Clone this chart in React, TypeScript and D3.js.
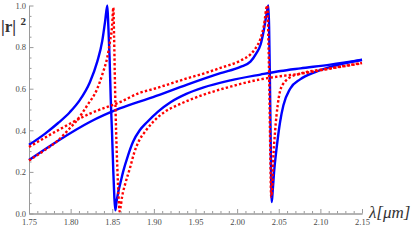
import React, { useEffect, useRef } from 'react';
import * as d3 from 'd3';

// wavelength (um) vs |r|^2
const blueA = [
  [1.75, 0.33], [1.769, 0.383], [1.785, 0.435], [1.799, 0.487], [1.811, 0.545],
  [1.823, 0.63], [1.832, 0.73], [1.838, 0.83], [1.8413, 0.92], [1.8441, 1.0],
  [1.8453, 0.9], [1.8468, 0.75], [1.8482, 0.55], [1.8498, 0.38], [1.8513, 0.2],
  [1.8525, 0.08], [1.8537, 0.015], [1.8549, 0.05], [1.857, 0.1], [1.86, 0.15],
  [1.863, 0.2], [1.869, 0.28], [1.875, 0.345], [1.883, 0.4], [1.892, 0.44],
  [1.905, 0.49], [1.92, 0.535], [1.939, 0.575], [1.959, 0.605], [1.992, 0.64],
  [2.028, 0.668], [2.052, 0.685], [2.076, 0.698], [2.112, 0.716], [2.15, 0.74],
];
const redA = [
  [1.75, 0.255], [1.769, 0.305], [1.785, 0.352], [1.799, 0.41], [1.808, 0.45],
  [1.82, 0.52], [1.832, 0.6], [1.839, 0.68], [1.844, 0.75], [1.8474, 0.83],
  [1.8498, 0.9], [1.8513, 0.99], [1.8522, 0.85], [1.8534, 0.6], [1.8546, 0.4],
  [1.8561, 0.22], [1.8576, 0.08], [1.8588, 0.01], [1.86, 0.03], [1.8618, 0.08],
  [1.8654, 0.14], [1.8714, 0.22], [1.8762, 0.29], [1.881, 0.34], [1.8906, 0.4],
  [1.899, 0.44], [1.9135, 0.49], [1.928, 0.52], [1.959, 0.57], [1.992, 0.61],
  [2.028, 0.645], [2.052, 0.66], [2.076, 0.672], [2.112, 0.697], [2.15, 0.722],
];
const blueB = [
  [1.75, 0.257], [1.785, 0.35], [1.823, 0.44], [1.859, 0.505], [1.899, 0.56],
  [1.94, 0.62], [1.98, 0.675], [2.004, 0.705], [2.016, 0.73], [2.023, 0.77],
  [2.028, 0.81], [2.032, 0.88], [2.035, 0.95], [2.0375, 1.0], [2.0384, 0.9],
  [2.0392, 0.7], [2.04, 0.45], [2.0408, 0.2], [2.0416, 0.055], [2.0426, 0.1],
  [2.0444, 0.2], [2.0476, 0.32], [2.0516, 0.44], [2.0556, 0.52], [2.0637, 0.6],
  [2.0757, 0.645], [2.0938, 0.68], [2.112, 0.705], [2.15, 0.738],
];
const redB = [
  [1.75, 0.32], [1.787, 0.405], [1.823, 0.48], [1.859, 0.535], [1.883, 0.58],
  [1.899, 0.598], [1.94, 0.65], [1.964, 0.678], [1.98, 0.7], [2.004, 0.735],
  [2.016, 0.765], [2.023, 0.8], [2.028, 0.84], [2.032, 0.9], [2.0362, 1.0],
  [2.0375, 0.85], [2.0387, 0.6], [2.0398, 0.3], [2.0409, 0.08], [2.0421, 0.12],
  [2.0433, 0.25], [2.0457, 0.4], [2.0487, 0.52], [2.0517, 0.59], [2.0577, 0.635],
  [2.0637, 0.655], [2.0757, 0.672], [2.112, 0.698], [2.15, 0.724],
];

const xMajor = [1.75, 1.8, 1.85, 1.9, 1.95, 2.0, 2.05, 2.1, 2.15];
const yMajor = [0, 0.2, 0.4, 0.6, 0.8, 1.0];

const width = 416;
const height = 241;
const axisColor = '#9a9a9a';
const labelColor = '#4a4a4a';
const serif = '"Liberation Serif", "Times New Roman", serif';

export default function App() {
  const xAxisRef = useRef<SVGGElement>(null);
  const yAxisRef = useRef<SVGGElement>(null);

  const x = d3.scaleLinear().domain([1.75, 2.15]).range([29, 362]);
  const y = d3.scaleLinear().domain([0, 1]).range([213.5, 5.5]);

  const line = d3.line<number[]>()
    .x(d => x(d[0]))
    .y(d => y(d[1]))
    .curve(d3.curveMonotoneX);

  useEffect(() => {
    // x axis: major + minor ticks pointing up
    const gx = d3.select(xAxisRef.current);
    gx.selectAll('*').remove();
    const minorX = d3.range(175, 216).map(v => v / 100).filter(v => !xMajor.some(m => Math.abs(m - v) < 1e-6));
    gx.append('g').call(d3.axisBottom(x).tickValues(minorX).tickSize(-2.5).tickSizeOuter(0).tickFormat(() => ''));
    gx.append('g').call(d3.axisBottom(x).tickValues(xMajor).tickSize(-4.5).tickSizeOuter(0).tickPadding(5).tickFormat(d3.format('.2f')));

    // y axis: ticks pointing right
    const gy = d3.select(yAxisRef.current);
    gy.selectAll('*').remove();
    const minorY = d3.range(0, 21).map(v => v / 20).filter(v => !yMajor.some(m => Math.abs(m - v) < 1e-6));
    gy.append('g').call(d3.axisLeft(y).tickValues(minorY).tickSize(-2.5).tickSizeOuter(0).tickFormat(() => ''));
    gy.append('g').call(d3.axisLeft(y).tickValues(yMajor).tickSize(-4.5).tickSizeOuter(0).tickPadding(3).tickFormat(d3.format('.1f')));

    [gx, gy].forEach(g => {
      g.selectAll('g').attr('font-family', serif).attr('font-size', 8.5);
      g.selectAll('path.domain').attr('stroke', axisColor);
      g.selectAll('line').attr('stroke', axisColor);
      g.selectAll('text').attr('fill', labelColor);
    });
  });

  return (
    <svg width={width} height={height} style={{ position: 'absolute', left: 0, top: 0, background: '#fff' }}>
      <g ref={xAxisRef} transform={`translate(0,${y(0)})`} />
      <g ref={yAxisRef} transform={`translate(${x(1.75)},0)`} />

      <g fill="none" strokeWidth={2.4}>
        <path d={line(blueA) || ''} stroke="#0000ff" />
        <path d={line(blueB) || ''} stroke="#0000ff" />
        <path d={line(redA) || ''} stroke="#ff0000" strokeDasharray="2.4 2.2" />
        <path d={line(redB) || ''} stroke="#ff0000" strokeDasharray="2.4 2.2" />
      </g>

      <text x={1} y={32} fontFamily={serif} fontWeight="bold" fontSize={17} fill="#333">|r|</text>
      <text x={20.5} y={25} fontFamily={serif} fontWeight="bold" fontSize={11} fill="#333">2</text>
      <text x={369} y={218} fontFamily={serif} fontStyle="italic" fontSize={17} fill="#333">λ[μm]</text>
    </svg>
  );
}
